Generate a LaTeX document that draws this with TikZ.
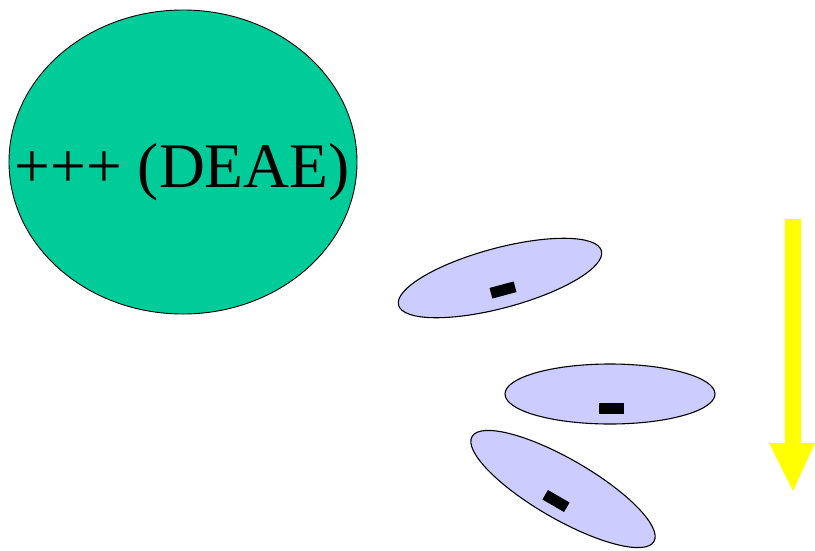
\documentclass[tikz,border=0pt]{standalone}
\usepackage{fontspec}
\setmainfont{Liberation Serif}
\usepackage{tikz}
\usetikzlibrary{shapes.geometric}
\definecolor{deaegreen}{HTML}{00CC99}
\definecolor{protblue}{HTML}{CCCCFF}
\definecolor{elutyellow}{HTML}{FFFF00}

\begin{document}
\begin{tikzpicture}[x=1pt,y=-1pt,
  prot/.style={ellipse,draw=black,line width=1.1pt,fill=protblue,inner sep=0pt,minimum width=210pt,minimum height=60pt},
  minus/.style={fill=black,inner sep=0pt,minimum width=25pt,minimum height=11pt}]
 \useasboundingbox (0,0) rectangle (815,550);
 % resin bead
 \node[ellipse,draw=black,line width=0.9pt,fill=deaegreen,inner sep=0pt,minimum width=348pt,minimum height=304pt] (deae) at (183,162) {};
 \node[anchor=base,font=\fontsize{63.5}{72}\selectfont,inner sep=0pt] (deaetext) at (182,187) {+++ (DEAE)};
 % proteins
 \node[prot,rotate=15] (prota) at (500,278) {};
 \node[minus,rotate=15] (minusa) at (503,290) {};
 \node[prot] (protb) at (610,394) {};
 \node[minus] (minusb) at (611,408) {};
 \node[prot,rotate=-30] (protc) at (563,489) {};
 \node[minus,rotate=-30] (minusc) at (556,501) {};
 % elution arrow
 \fill[elutyellow] (785,219) -- (801,219) -- (801,443) -- (815,443) -- (793,491) -- (769,443) -- (785,443) -- cycle;
\end{tikzpicture}
\end{document}
